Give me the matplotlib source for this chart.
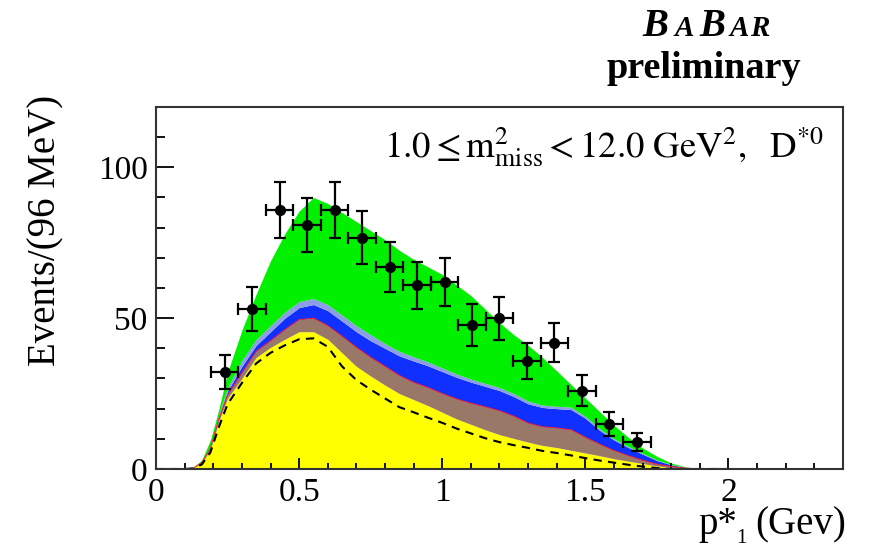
import matplotlib
matplotlib.use("Agg")
import matplotlib.pyplot as plt
from matplotlib.ticker import MultipleLocator

plt.rcParams['font.family'] = ['Liberation Serif', 'DejaVu Serif']
plt.rcParams['mathtext.fontset'] = 'stix'

# data points (bin centres, events, errors)
bin_centres = [0.24, 0.336, 0.432, 0.528, 0.624, 0.72, 0.816, 0.912, 1.008, 1.104,
               1.2, 1.296, 1.392, 1.488, 1.584, 1.68]
events = [32.2, 52.9, 85.8, 80.8, 85.8, 76.7, 67.0, 60.9, 62.0, 47.7,
          49.9, 35.9, 41.8, 25.9, 14.9, 8.8]
event_err = [5.7, 7.3, 9.3, 9.0, 9.3, 8.8, 8.2, 7.8, 7.9, 6.9, 7.1, 6.0, 6.5, 5.1, 3.9, 3.0]
bin_half = 0.048

# fit components (stacked boundaries)
px = [0.0, 0.1, 0.13, 0.16, 0.19, 0.22, 0.25, 0.3, 0.35, 0.4, 0.45, 0.5, 0.55, 0.6, 0.65,
      0.7, 0.75, 0.8, 0.85, 0.9, 0.95, 1.0, 1.05, 1.1, 1.15, 1.2, 1.25, 1.3, 1.35, 1.4,
      1.45, 1.5, 1.55, 1.6, 1.65, 1.7, 1.75, 1.8, 1.85, 1.9, 2.0]
dashed = [0, 0, 0.2, 1.5, 5.5, 14, 21.5, 28.5, 35, 38.5, 41, 43, 43.3, 40.5, 34, 29.5,
          26.3, 23.4, 20.5, 18.8, 17, 15.3, 13.4, 11.8, 10.2, 8.9, 7.9, 7, 6, 5.3, 4.5,
          3.6, 2.8, 2.1, 1.4, 0.8, 0.3, 0, 0, 0, 0]
yellow_top = [0, 0, 0.3, 2, 6.5, 16, 23.5, 30, 37, 40.3, 43, 45.5, 45.5, 43, 38.5, 34,
              30.8, 27.8, 25, 23, 21, 18.8, 16.6, 14.8, 13, 11.4, 10.1, 8.9, 7.8, 7.1,
              6.2, 5.3, 4.4, 3.4, 2.6, 1.8, 1, 0.5, 0.15, 0, 0]
brown_top = [0, 0, 0.3, 2.1, 6.8, 16.8, 24.5, 31.8, 39, 42.5, 46.2, 49.5, 50, 47.5, 44,
             40.3, 37, 34, 31, 28.7, 27, 25, 23.2, 21.8, 20.6, 19.3, 17.5, 15.2, 14,
             13.6, 13, 10.5, 8.2, 6.1, 4.4, 2.9, 1.6, 0.8, 0.25, 0.05, 0]
blue_top = [0, 0, 0.3, 2.2, 7.2, 17.5, 25.8, 34, 41, 45.5, 50, 53.5, 54.5, 52.5, 49,
            45.5, 42.5, 40, 37.5, 35.8, 34.2, 32.3, 30.4, 28.8, 27.4, 26, 24, 21.6, 20.4,
            20, 19.7, 16.8, 12.8, 9.6, 7.1, 4.9, 2.8, 1.4, 0.5, 0.1, 0]
lblue_top = [0, 0, 0.3, 2.3, 7.5, 18.2, 27, 36, 43, 47.5, 52, 55.5, 56.5, 54.5, 51,
             47.5, 44.5, 41.6, 39, 37.2, 35.5, 33.5, 31.5, 29.8, 28.4, 27, 25, 22.5,
             21.2, 20.8, 20.5, 17.5, 13.4, 10, 7.5, 5.2, 3, 1.5, 0.6, 0.15, 0]
total = [0, 0, 0.5, 3, 9.6, 20, 32, 46, 58, 69, 78, 85.5, 90, 88, 85, 82, 79, 76, 72.5,
         69.5, 67, 64.5, 61, 57.5, 53, 48.5, 44.5, 41, 37, 32.5, 28, 23.5, 19, 14.5,
         10.5, 7, 4.2, 2, 0.7, 0.2, 0]

fig = plt.figure(figsize=(8.75, 5.5), dpi=100)
ax = fig.add_axes([0.1783, 0.1473, 0.7851, 0.6582])

zero = [0] * len(px)
ax.fill_between(px, zero, yellow_top, color='#ffff00', lw=0)
ax.fill_between(px, yellow_top, brown_top, color='#9a7868', lw=0)
ax.fill_between(px, brown_top, blue_top, color='#1030ff', lw=0)
ax.fill_between(px, blue_top, lblue_top, color='#8c9ee6', lw=0)
ax.fill_between(px, lblue_top, total, color='#00f000', lw=0)
ax.plot(px, brown_top, color='#ff2020', lw=0.7)
ax.plot(px, dashed, color='black', lw=1.5, ls=(0, (4, 3)))

ax.errorbar(bin_centres, events, xerr=bin_half, yerr=event_err, fmt='o', color='black',
            ms=7, elinewidth=1.6, capsize=4, capthick=1.6)

ax.set_xlim(0, 2.4)
ax.set_ylim(0, 120)
ax.set_xticks([0, 0.5, 1, 1.5, 2])
ax.set_xticklabels(['0', '0.5', '1', '1.5', '2'])
ax.set_yticks([0, 50, 100])
ax.xaxis.set_minor_locator(MultipleLocator(0.1))
ax.yaxis.set_minor_locator(MultipleLocator(10))
ax.tick_params(axis='both', which='both', direction='in', top=False, right=False,
               labelsize=24, width=1.3)
ax.tick_params(axis='x', which='major', length=8, pad=6)
ax.tick_params(axis='x', which='minor', length=4.5)
ax.tick_params(axis='y', which='major', length=13, pad=6)
ax.tick_params(axis='y', which='minor', length=6.5)
for s in ax.spines.values():
    s.set_linewidth(1.5)
    s.set_color('#333333')

ax.text(0.971, 0.862, r'$1.0 \leq \mathrm{m}^{2}_{\mathrm{miss}} < 12.0\ \mathrm{GeV}^{2},\ \ \mathrm{D}^{*0}$',
        transform=ax.transAxes, ha='right', va='baseline', fontsize=26.5)

fig.text(46 / 875, 1 - 95 / 550, 'Events/(96 MeV)', rotation=90, ha='center', va='top',
         fontsize=28)

# x axis title: p*_1 (Gev)
fig.text(698 / 875, 1 - 534 / 550, 'p*', ha='left', va='baseline', fontsize=28)
fig.text(741 / 875, 1 - 543 / 550, '1', ha='center', va='baseline', fontsize=15)
fig.text(846 / 875, 1 - 534 / 550, '(Gev)', ha='right', va='baseline', fontsize=28)

# BaBar logo
logo = [('B', 655, 28), ('A', 684, 21), ('B', 712, 28), ('A', 739, 21), ('R', 760, 21)]
for ch, xp, fs in logo:
    fig.text(xp / 875, 1 - 36 / 550, ch, ha='center', va='baseline', fontsize=fs,
             fontweight='bold', fontstyle='italic')
fig.text(704 / 875, 1 - 78 / 550, 'preliminary', ha='center', va='baseline', fontsize=27.5,
         fontweight='bold')

fig.savefig('out.png', dpi=100)
